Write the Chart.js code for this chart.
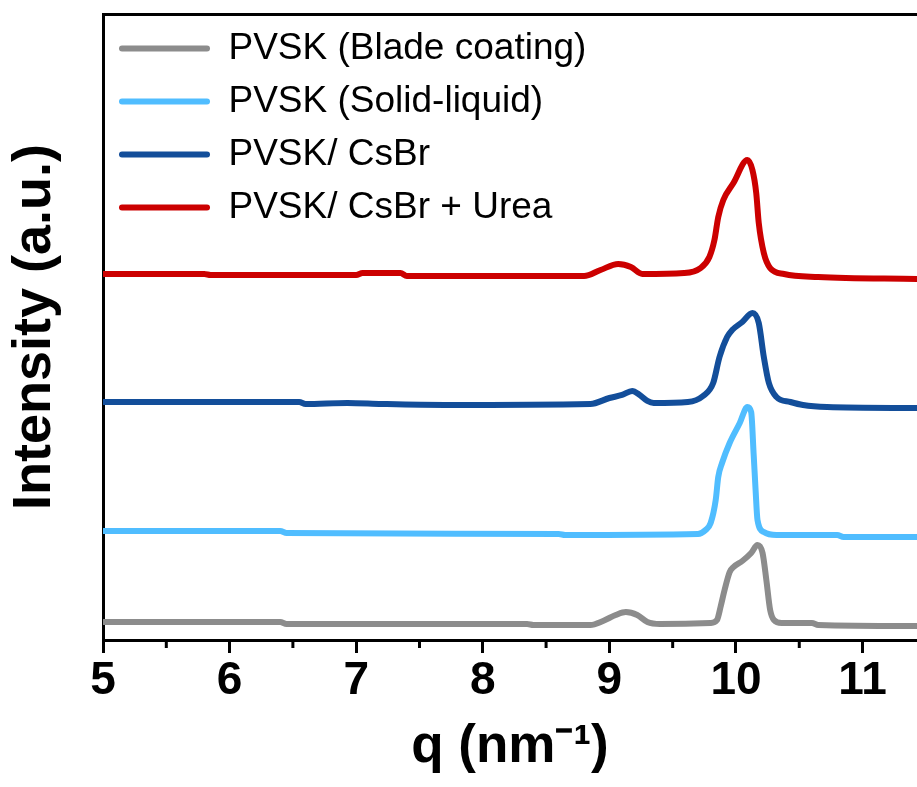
<!DOCTYPE html>
<html>
<head>
<meta charset="utf-8">
<script src="https://cdn.jsdelivr.net/npm/chart.js@4.4.1/dist/chart.umd.min.js"></script>
<style>
  html, body { margin: 0; padding: 0; background: #ffffff; }
  #wrap { width: 917px; height: 787px; position: relative; }
</style>
</head>
<body>
<div id="wrap"><canvas id="c"></canvas></div>
<script>
// ---- Data (q in nm^-1, intensity in a.u., traces offset as plotted) ----
const seriesNames = ['PVSK (Blade coating)', 'PVSK (Solid-liquid)', 'PVSK/ CsBr', 'PVSK/ CsBr + Urea'];

const qGray = [5.00, 6.40, 6.45, 8.35, 8.40, 8.85, 8.95, 9.05, 9.13, 9.22, 9.30, 9.40, 9.80, 9.85, 9.88, 9.91, 9.95, 9.98, 10.05, 10.12, 10.17, 10.21, 10.24, 10.27, 10.30, 10.36, 10.60, 10.65, 11.43];
const iGray = [2.88, 2.88, 2.56, 2.56, 2.40, 2.40, 3.04, 3.99, 4.47, 3.99, 2.88, 2.56, 2.72, 3.19, 5.43, 7.99, 10.86, 11.66, 12.62, 13.90, 15.18, 13.90, 9.58, 4.79, 3.19, 2.72, 2.72, 2.40, 2.24];

const qLight = [5.00, 6.40, 6.45, 8.60, 8.65, 9.70, 9.76, 9.80, 9.84, 9.86, 9.89, 9.95, 10.03, 10.09, 10.12, 10.14, 10.155, 10.17, 10.22, 10.32, 10.80, 10.85, 11.43];
const iLight = [17.41, 17.41, 17.09, 16.93, 16.77, 16.93, 17.57, 18.69, 22.36, 26.04, 28.27, 31.47, 34.66, 37.22, 36.42, 29.55, 23.96, 19.17, 17.25, 16.77, 16.77, 16.45, 16.45];

const qDark = [5.00, 6.55, 6.60, 6.93, 7.20, 7.70, 8.85, 9.00, 9.10, 9.18, 9.24, 9.30, 9.35, 9.62, 9.74, 9.82, 9.87, 9.93, 9.97, 10.05, 10.13, 10.18, 10.22, 10.26, 10.32, 10.43, 10.53, 10.72, 11.43];
const iDark = [38.02, 38.02, 37.70, 37.86, 37.70, 37.54, 37.70, 38.66, 39.14, 39.78, 39.14, 38.18, 37.86, 38.02, 38.98, 41.05, 45.21, 48.40, 49.52, 50.80, 52.24, 50.64, 45.21, 41.05, 38.82, 38.02, 37.54, 37.22, 37.06];

const qRed = [5.00, 5.80, 5.85, 7.00, 7.05, 7.35, 7.40, 8.80, 8.93, 9.07, 9.17, 9.26, 9.59, 9.72, 9.79, 9.83, 9.86, 9.90, 9.98, 10.09, 10.13, 10.16, 10.18, 10.22, 10.27, 10.38, 10.65, 11.43];
const iRed = [58.47, 58.47, 58.31, 58.31, 58.63, 58.63, 58.15, 58.15, 59.11, 60.06, 59.58, 58.47, 58.63, 59.42, 61.18, 63.90, 67.57, 70.29, 73.00, 76.68, 75.08, 71.41, 66.61, 61.82, 59.42, 58.47, 57.99, 57.67];

const xTicksMinor = [5.5, 6.5, 7.5, 8.5, 9.5, 10.5];
const xMin = 5, xMax = 11.43;
const colors = ['#8c8c8c', '#50bdff', '#134e9a', '#cc0000'];

const toPts = (qs, is) => qs.map((q, k) => ({x: q, y: is[k]}));
const allQ = [qGray, qLight, qDark, qRed];
const allI = [iGray, iLight, iDark, iRed];

const datasets = seriesNames.map((name, k) => ({
  label: name,
  data: toPts(allQ[k], allI[k]),
  borderColor: colors[k],
  backgroundColor: colors[k],
  borderWidth: 6,
  pointRadius: 0,
  fill: false,
  tension: 0.4,
  cubicInterpolationMode: 'monotone',
  borderJoinStyle: 'round',
  borderCapStyle: 'round'
}));

const minorTickPlugin = {
  id: 'minorTicks',
  afterDraw(chart) {
    const s = chart.scales.x;
    const ctx = chart.ctx;
    ctx.save();
    ctx.strokeStyle = '#000';
    ctx.lineWidth = 3;
    xTicksMinor.forEach(v => {
      const px = s.getPixelForValue(v);
      ctx.beginPath();
      ctx.moveTo(px, s.top);
      ctx.lineTo(px, s.top + 8);
      ctx.stroke();
    });
    ctx.restore();
  }
};

new Chart(document.getElementById('c'), {
  type: 'line',
  data: { datasets },
  plugins: [minorTickPlugin],
  options: {
    responsive: true,
    maintainAspectRatio: false,
    animation: false,
    events: [],
    layout: { padding: 0 },
    plugins: {
      tooltip: { enabled: false },
      legend: {
        position: 'chartArea',
        align: 'start',
        title: {
          display: true,
          text: ' ',
          padding: 2,
          font: { size: 10, lineHeight: 1 }
        },
        labels: {
          boxWidth: 91,
          boxHeight: 6,
          padding: 16,
          color: '#000',
          useBorderRadius: true,
          borderRadius: 3,
          font: { family: "'Liberation Sans', Arial, sans-serif", size: 37 },
          generateLabels(chart) {
            const items = Chart.defaults.plugins.legend.labels.generateLabels(chart);
            items.forEach(it => { it.lineWidth = 0; });
            return items;
          }
        }
      }
    },
    scales: {
      x: {
        type: 'linear',
        position: 'bottom',
        min: xMin,
        max: xMax,
        afterFit(scale) { scale.height = 147; },
        ticks: {
          stepSize: 1,
          includeBounds: false,
          color: '#000',
          padding: 1,
          maxRotation: 0,
          font: { family: "'Liberation Sans', Arial, sans-serif", size: 46, weight: 'bold' }
        },
        grid: { display: true, drawOnChartArea: false, drawTicks: true, tickLength: 13, tickWidth: 3, tickColor: '#000' },
        border: { display: true, width: 3, color: '#000' },
        title: {
          display: true,
          text: 'q (nm\u207B\u00B9)',
          color: '#000',
          padding: { top: 0, bottom: 8 },
          font: { family: "'Liberation Sans', Arial, sans-serif", size: 53, weight: 'bold' }
        }
      },
      xTop: {
        type: 'linear',
        position: 'top',
        min: xMin,
        max: xMax,
        afterFit(scale) { scale.height = 14; },
        ticks: { display: false },
        grid: { display: true, drawOnChartArea: false, drawTicks: false },
        border: { display: true, width: 3, color: '#000' }
      },
      y: {
        type: 'linear',
        position: 'left',
        min: 0,
        max: 100,
        afterFit(scale) { scale.width = 103; },
        ticks: { display: false },
        grid: { display: true, drawOnChartArea: false, drawTicks: false },
        border: { display: true, width: 3, color: '#000' },
        title: {
          display: true,
          text: 'Intensity (a.u.)',
          color: '#000',
          padding: { top: 3, bottom: 0 },
          font: { family: "'Liberation Sans', Arial, sans-serif", size: 54, weight: 'bold' }
        }
      }
    }
  }
});
</script>
</body>
</html>
